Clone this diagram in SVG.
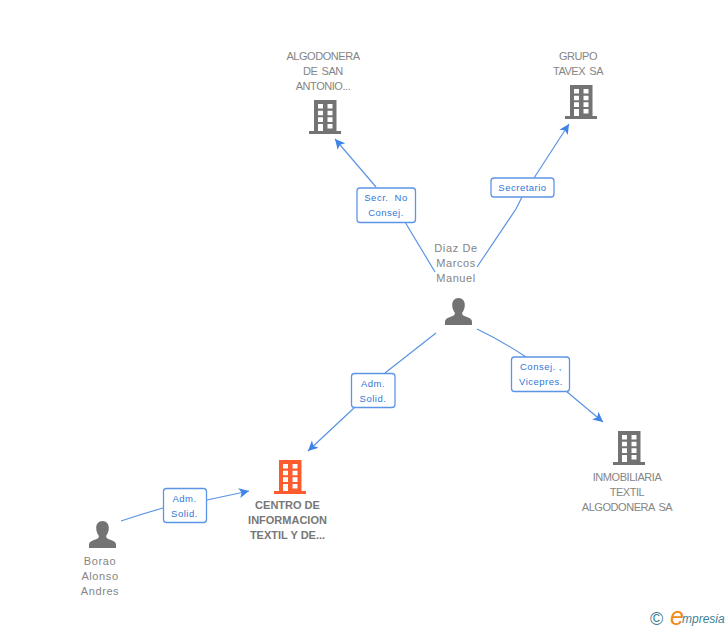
<svg xmlns="http://www.w3.org/2000/svg" width="728" height="630" viewBox="0 0 728 630">
<style>
text{font-family:"Liberation Sans",Arial,sans-serif}
.n{font-size:11px;fill:#858585;text-anchor:middle}
.c{letter-spacing:-.45px;word-spacing:1.5px}
.p{letter-spacing:.6px}
.b{font-weight:bold;fill:#777}
.l{font-size:9.500px;fill:#2f77d8;text-anchor:middle;letter-spacing:.5px}
.r{fill:#fff;stroke:#5d95e6;stroke-width:1.3}
.e{fill:none;stroke:#5b93e4;stroke-width:1.2}
</style>
<defs>
<marker id="a" markerUnits="userSpaceOnUse" markerWidth="12" markerHeight="12" refX="10" refY="5" orient="auto"><path d="M0 0L10 5L0 10L2.500 5Z" fill="#3f83e6"/></marker>
<g id="bld"><path fill-rule="evenodd" d="M5 0H27.500V31H32V34H0V31H5ZM9 4V8.500H14V4ZM18.500 4V8.500H23.500V4ZM9 10.700V15.300H14V10.700ZM18.500 10.700V15.300H23.500V10.700ZM9 17.300V22H14V17.300ZM18.500 17.300V22H23.500V17.300ZM9 24V31H14V24ZM18.500 24V28.500H23.500V24Z"/></g>
<g id="per"><path fill="#737373" d="M13.500 0C17.500 0 19.800 3 19.800 7C19.800 10.500 18.500 13 17 15C17 17 19 18 22 19C25.500 20.200 27 21.500 27 24V27H0V24C0 21.500 1.500 20.200 5 19C8 18 10 17 10 15C8.500 13 7.200 10.500 7.200 7C7.200 3 9.500 0 13.500 0Z"/></g>
</defs>
<g id="connectors">
<path class="e" d="M435 272Q420 247 405 222"/>
<path class="e" marker-end="url(#a)" d="M376 187L335 139"/>
<path class="e" d="M477 267L516 209L522 197"/>
<path class="e" marker-end="url(#a)" d="M534 178L569 124"/>
<path class="e" d="M477 329Q502 341 526 357"/>
<path class="e" marker-end="url(#a)" d="M566 391L603 422"/>
<path class="e" d="M436 333L385 373"/>
<path class="e" marker-end="url(#a)" d="M354 408L308 451"/>
<path class="e" d="M121 521Q142 514 163 508"/>
<path class="e" marker-end="url(#a)" d="M207 500L249 491"/>
</g>
<g id="edge-labels">
<g><rect class="r" x="357" y="188" width="58.500" height="34.500" rx="3"/><text class="l" x="386" y="201" word-spacing="3">Secr. No</text><text class="l" x="386" y="216">Consej.</text></g>
<g><rect class="r" x="491" y="178" width="63" height="19" rx="3"/><text class="l" x="522.500" y="191">Secretario</text></g>
<g><rect class="r" x="511.500" y="357" width="58" height="34.500" rx="3"/><text class="l" x="541" y="370">Consej. ,</text><text class="l" x="541" y="385">Vicepres.</text></g>
<g><rect class="r" x="351.500" y="373.500" width="43.500" height="34" rx="3"/><text class="l" x="373" y="387">Adm.</text><text class="l" x="373" y="402">Solid.</text></g>
<g><rect class="r" x="163.500" y="488.500" width="43" height="34" rx="3"/><text class="l" x="184.500" y="502">Adm.</text><text class="l" x="184.500" y="517">Solid.</text></g>
</g>
<g id="node-algodonera"><text class="n c" x="323" y="60">ALGODONERA</text><text class="n c" x="323" y="75">DE SAN</text><text class="n c" x="323" y="90">ANTONIO...</text><use href="#bld" x="309" y="100" fill="#737373"/></g>
<g id="node-grupo"><text class="n c" x="578" y="60">GRUPO</text><text class="n c" x="578" y="75">TAVEX SA</text><use href="#bld" x="565" y="85" fill="#737373"/></g>
<g id="node-diaz"><text class="n p" x="456" y="252">Diaz De</text><text class="n p" x="456" y="267">Marcos</text><text class="n p" x="456" y="282">Manuel</text><use href="#per" x="445" y="298"/></g>
<g id="node-inmobiliaria"><use href="#bld" x="613" y="431" fill="#737373"/><text class="n c" x="627" y="481">INMOBILIARIA</text><text class="n c" x="627" y="496">TEXTIL</text><text class="n c" x="627" y="511">ALGODONERA SA</text></g>
<g id="node-centro"><use href="#bld" x="274" y="460" fill="#ff5c2e"/><text class="n b" x="287.500" y="509">CENTRO DE</text><text class="n b" x="287.500" y="524">INFORMACION</text><text class="n b" x="287.500" y="539">TEXTIL Y DE...</text></g>
<g id="node-borao"><use href="#per" x="89" y="521"/><text class="n p" x="100" y="565">Borao</text><text class="n p" x="100" y="580">Alonso</text><text class="n p" x="100" y="595">Andres</text></g>
<g id="logo"><text x="650" y="625" font-size="18" fill="#3f7f96">©</text><text x="670" y="625" font-size="25" font-style="italic" font-family="Liberation Serif" fill="#f08a1d">e</text><text x="682" y="623" font-size="12" font-style="italic" fill="#3f7f96">mpresia</text></g>
</svg>
